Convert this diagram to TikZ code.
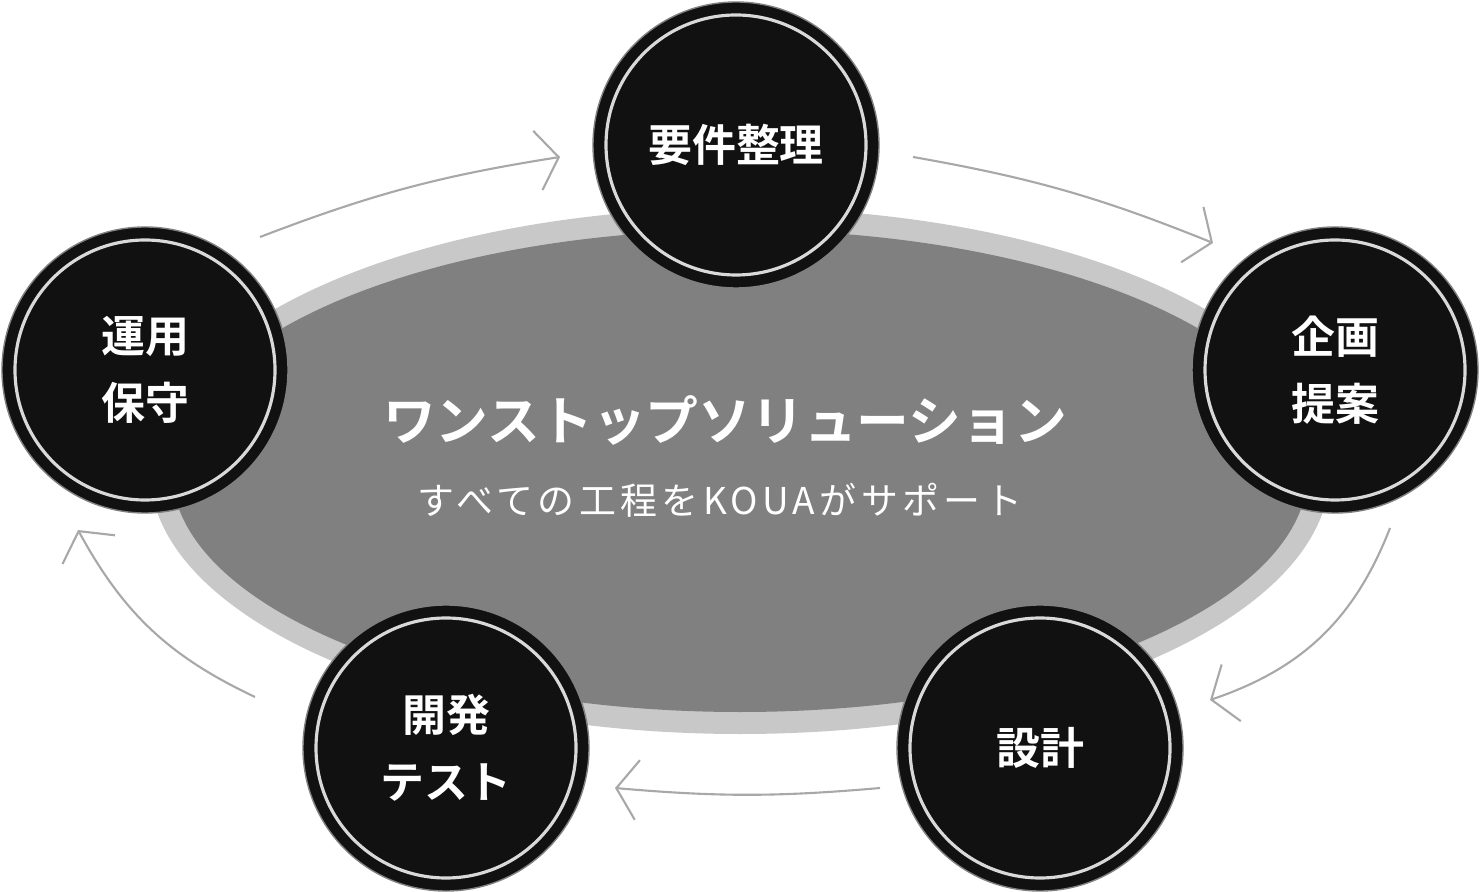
\documentclass[tikz,border=0pt]{standalone}
\usepackage{fontspec}
\newfontfamily\cjk{Noto Sans CJK JP}
\newfontfamily\cjkb{Noto Sans CJK JP Bold}
\usetikzlibrary{arrows.meta}
\definecolor{ringlight}{HTML}{C8C8C8}
\definecolor{ringdark}{HTML}{808080}
\definecolor{disc}{HTML}{111111}
\definecolor{arr}{HTML}{A8A8A8}
\tikzset{
  stage/.style={circle, fill=disc, draw=ringdark, line width=0.4pt, minimum size=286*0.01cm, inner sep=0pt, align=center, text=white, font=\cjkb\fontsize{12.5}{17}\selectfont},
  cyc/.style={draw=arr, line width=0.6pt, -{Straight Barb[length=6pt,width=17pt,line width=0.6pt]}},
}
\begin{document}
\begin{tikzpicture}[x=0.01cm,y=-0.01cm]
\useasboundingbox (0,0) rectangle (1480,892);
\fill[ringlight] (740,471) ellipse [x radius=590, y radius=263];
\fill[ringdark] (740,471) ellipse [x radius=568, y radius=241];
\node[text=white, font=\cjkb\fontsize{15}{18}\selectfont] (title) at (725,420) {ワンストップソリューション};
\node[text=white, font=\cjk\fontsize{10.5}{14}\selectfont\addfontfeatures{LetterSpace=12}] (sub) at (720,500) {すべての工程をKOUAがサポート};
\node[stage] (a) at (736,145) {要件整理};
\node[stage] (b) at (1335,370) {企画\\[2pt]提案};
\node[stage] (c) at (1040,748) {設計};
\node[stage] (d) at (446,748) {開発\\[2pt]テスト};
\node[stage] (e) at (145,370) {運用\\[2pt]保守};
\foreach \n in {a,b,c,d,e}{\draw[white!85!black, line width=0.9pt] (\n) circle [radius=130];}
\coordinate (a1) at (260,237); \coordinate (a2) at (560,157);
\coordinate (b1) at (913,157); \coordinate (b2) at (1213,243);
\coordinate (c1) at (1390,528); \coordinate (c2) at (1210,700);
\coordinate (d1) at (880,788); \coordinate (d2) at (615,788);
\coordinate (e1) at (255,697); \coordinate (e2) at (78,530);
\draw[cyc] (a1) to[bend left=6] (a2);
\draw[cyc] (b1) to[bend left=6] (b2);
\draw[cyc] (c1) to[bend left=25] (c2);
\draw[cyc] (d1) to[bend left=5] (d2);
\draw[cyc] (e1) to[bend left=18] (e2);
\end{tikzpicture}
\end{document}
